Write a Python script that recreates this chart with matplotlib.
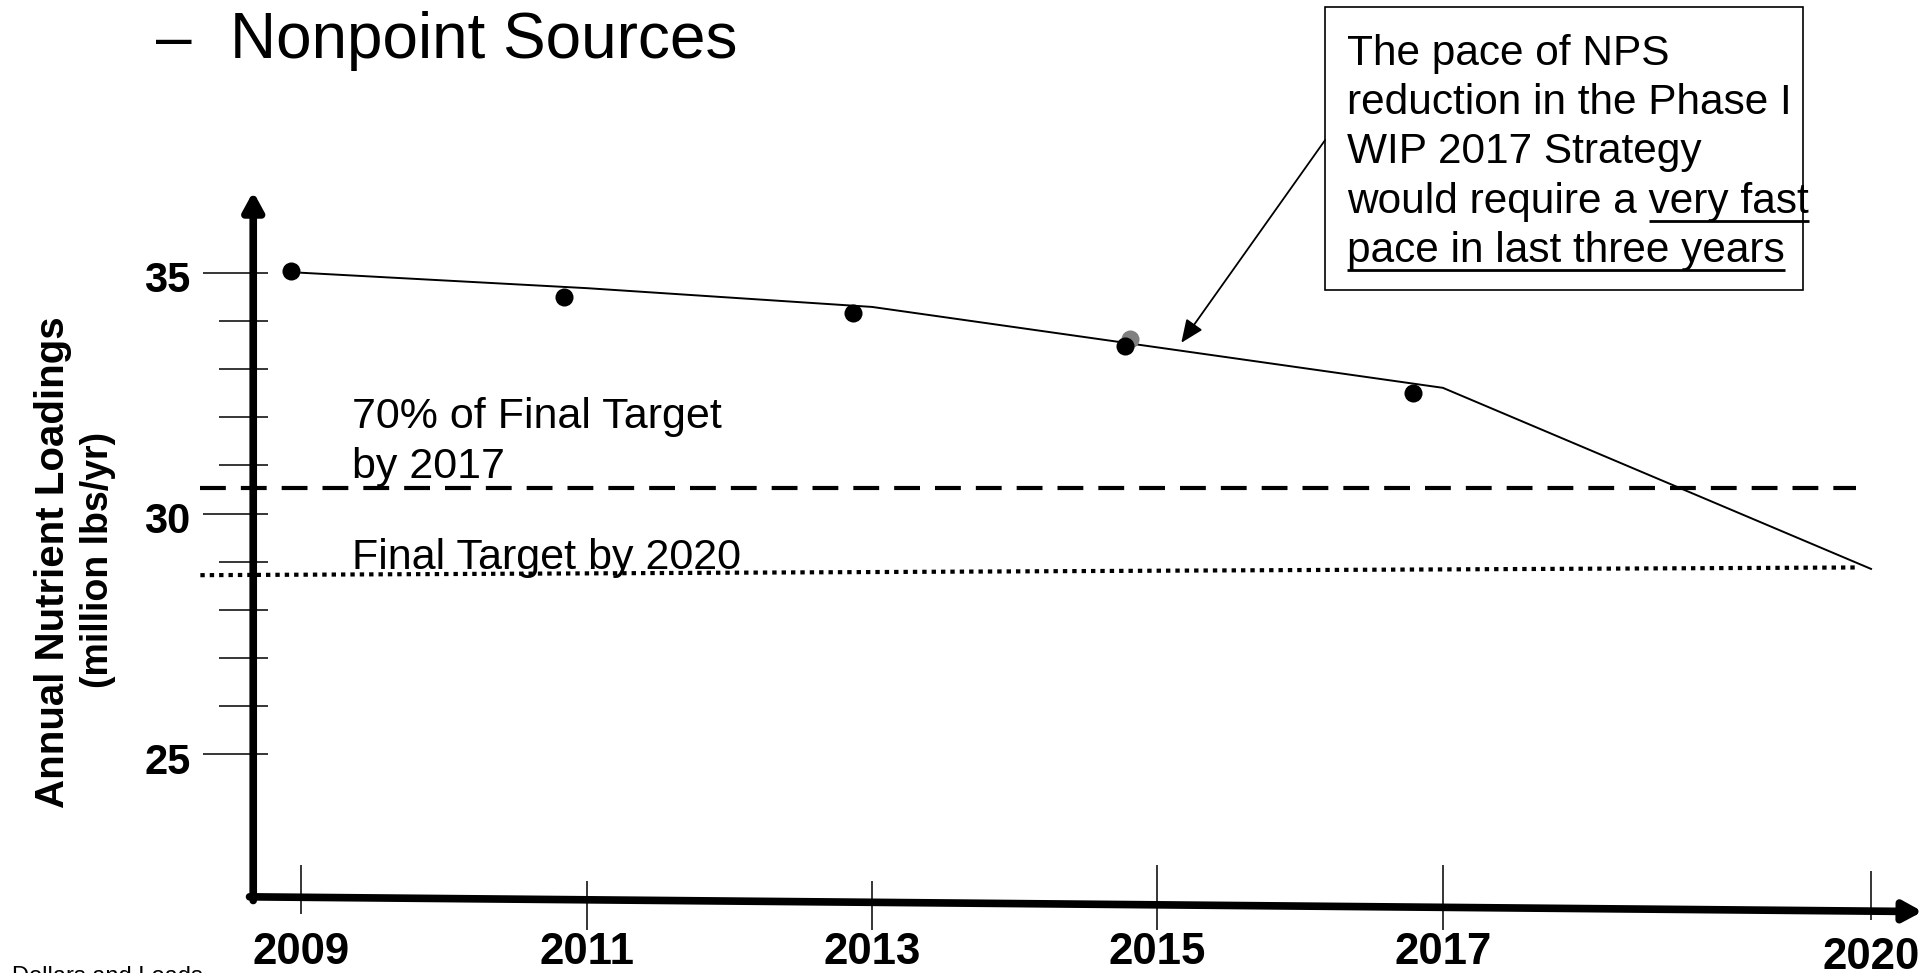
import matplotlib
matplotlib.use('Agg')
import matplotlib.pyplot as plt
import matplotlib.transforms as mtrans
from matplotlib.patches import Rectangle
from matplotlib import font_manager

plt.rcParams['font.family'] = ['Liberation Sans', 'DejaVu Sans']

# ---------------- data ----------------
tick_years = [2009, 2011, 2013, 2015, 2017, 2020]
tick_labels = ['2009', '2011', '2013', '2015', '2017', '2020']
point_years = [2008.93, 2010.84, 2012.87, 2014.77, 2016.79]
point_values = [35.03, 34.49, 34.16, 33.48, 32.50]
grey_years = [2014.81]
grey_values = [33.62]
path_years = [2009, 2011, 2013, 2015, 2017, 2020]
path_values = [35.0, 34.68, 34.29, 33.45, 32.61, 28.85]
target70 = 30.54
final_target = [28.72, 28.88]
y_major = [25, 30, 35]
y_major_labels = ['25', '30', '35']
y_minor = [26, 27, 28, 29, 31, 32, 33, 34]

title_text = 'Nonpoint Sources'
ylabel_text = 'Annual Nutrient Loadings'
ysub_text = '(million lbs/yr)'
label70 = ['70% of Final Target', 'by 2017']
label_final = 'Final Target by 2020'
box_lines = ['The pace of NPS', 'reduction in the Phase I', 'WIP 2017 Strategy',
             'would require a very fast', 'pace in last three years']
footnote = 'Dollars and Loads'

# ---------------- layout ----------------
W, H = 1566.0, 792.0
fig = plt.figure(figsize=(19.25, 9.73), dpi=100)
fig.patch.set_facecolor('white')
px = mtrans.Affine2D().scale(1 / W, -1 / H).translate(0, 1) + fig.transFigure

X0_PX, YR_PX = 245.0, 116.1
Y35_PX, U_PX = 222.0, 39.2
ax = fig.add_axes([0, 0, 1, 1])
ax.set_xlim(2009 - X0_PX / YR_PX, 2009 + (W - X0_PX) / YR_PX)
ax.set_ylim(35 - (H - Y35_PX) / U_PX, 35 + Y35_PX / U_PX)
ax.axis('off')

bx = mtrans.blended_transform_factory(px, ax.transData)   # x px, y data
by = mtrans.blended_transform_factory(ax.transData, px)   # x data, y px

names = {f.name for f in font_manager.fontManager.ttflist}
if 'Liberation Sans Narrow' in names:
    yfam = ['Liberation Sans Narrow', 'Liberation Sans']
    ysz, ssz = 34.5, 33
else:
    yfam = ['Liberation Sans', 'DejaVu Sans']
    ysz, ssz = 29, 27

# axes arrows
ax.annotate('', xy=(206, 156), xytext=(206, 733), xycoords=px, textcoords=px,
            arrowprops=dict(arrowstyle='-|>,head_length=0.55,head_width=0.3',
                            lw=5.5, color='black', mutation_scale=20,
                            shrinkA=0, shrinkB=0), annotation_clip=False)
ax.annotate('', xy=(1564, 742), xytext=(203, 730), xycoords=px, textcoords=px,
            arrowprops=dict(arrowstyle='-|>,head_length=0.55,head_width=0.3',
                            lw=5.5, color='black', mutation_scale=20,
                            shrinkA=0, shrinkB=0), annotation_clip=False)

# y ticks
for v in y_major:
    ax.plot([165, 218], [v, v], transform=bx, color='black', lw=1.1, solid_capstyle='butt')
for v in y_minor:
    ax.plot([178, 218], [v, v], transform=bx, color='black', lw=1.1, solid_capstyle='butt')
lab_off = mtrans.ScaledTranslation(0, -14 / 72, fig.dpi_scale_trans)
for v, lab in zip(y_major, y_major_labels):
    ax.text(155, v, lab, transform=bx + lab_off, ha='right', va='baseline',
            fontsize=30, fontweight='bold')

# x ticks
tick_spans = [(704, 744), (717, 757), (717, 757), (704, 757), (704, 757), (709, 749)]
label_base = [785, 785, 785, 785, 785, 789]
for yr, lab, (t0, t1), lb in zip(tick_years, tick_labels, tick_spans, label_base):
    ax.plot([yr, yr], [t0, t1], transform=by, color='black', lw=1.1, solid_capstyle='butt')
    ax.text(yr, lb, lab, transform=by, ha='center', va='baseline',
            fontsize=31.5, fontweight='bold')

# target lines
ax.plot([163, 1510], [target70, target70], transform=bx, color='black', lw=3,
        ls=(0, (6.2, 3.6)), dash_capstyle='butt')
ax.plot([163, 1510], final_target, transform=bx, color='black', lw=3,
        ls=(0, (1.05, 1.2)), dash_capstyle='butt')

# data
ax.plot(path_years, path_values, color='black', lw=1.4, zorder=3)
ax.plot(grey_years, grey_values, 'o', color='#808080', ms=13, mec='none', zorder=4)
ax.plot(point_years, point_values, 'o', color='black', ms=13, mec='none', zorder=5)

# texts
ax.text(127, 47, '\u2013', transform=px, fontsize=46, va='baseline', ha='left')
ax.text(187, 47, title_text, transform=px, fontsize=46, va='baseline', ha='left')
ax.text(52, 458, ylabel_text, transform=px, rotation=90, rotation_mode='anchor',
        ha='center', va='baseline', fontsize=ysz, fontweight='bold', family=yfam)
ax.text(88, 456, ysub_text, transform=px, rotation=90, rotation_mode='anchor',
        ha='center', va='baseline', fontsize=ssz, fontweight='bold', family=yfam)
ax.text(286, 348, label70[0], transform=px, fontsize=31, va='baseline')
ax.text(286, 389, label70[1], transform=px, fontsize=31, va='baseline')
ax.text(286, 463, label_final, transform=px, fontsize=31, va='baseline')
ax.text(10, 800, footnote, transform=px, fontsize=17, va='baseline')

# callout box
ax.add_patch(Rectangle((1078, 6), 389, 230, transform=px, facecolor='white',
                       edgecolor='black', lw=1.2, zorder=6))
baselines = [53, 93, 133, 173, 213]
texts = []
for s, b in zip(box_lines, baselines):
    texts.append(ax.text(1096, b, s, transform=px, fontsize=30.5, va='baseline', zorder=7))

renderer = fig.canvas.get_renderer()
inv = px.inverted()
bb4 = texts[3].get_window_extent(renderer)
tmp = ax.text(0, 0, 'very fast', transform=px, fontsize=30.5)
wu = tmp.get_window_extent(renderer).width
tmp.remove()
bb5 = texts[4].get_window_extent(renderer)
for (xa, xb), b in [((bb4.x1 - wu, bb4.x1), baselines[3]), ((bb5.x0, bb5.x1), baselines[4])]:
    xa_px = inv.transform((xa, 0))[0]
    xb_px = inv.transform((xb, 0))[0]
    ax.plot([xa_px, xb_px], [b + 7, b + 7], transform=px, color='black', lw=2,
            solid_capstyle='butt', zorder=7)

ax.annotate('', xy=(961, 279), xytext=(1078, 114), xycoords=px, textcoords=px,
            arrowprops=dict(arrowstyle='-|>,head_length=0.7,head_width=0.3',
                            lw=1.3, color='black', mutation_scale=20,
                            shrinkA=0, shrinkB=0), annotation_clip=False, zorder=8)

fig.savefig('out.png', dpi=100, facecolor='white')
